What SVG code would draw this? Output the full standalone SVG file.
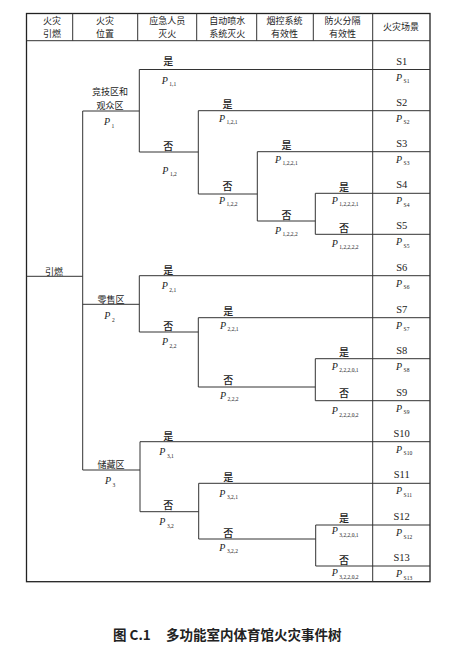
<svg xmlns="http://www.w3.org/2000/svg" width="457" height="650" viewBox="0 0 457 650">
<style>
.bg{fill:#ffffff}
.fr{fill:none;stroke:#222;stroke-width:1.3}
.ln{fill:none;stroke:#333;stroke-width:1}
.h{font-family:"Noto Sans CJK SC",sans-serif;font-size:9px;text-anchor:middle;fill:#222}
.yn{font-family:"Noto Sans CJK SC",sans-serif;font-size:10px;text-anchor:middle;fill:#222;font-weight:500}
.s{font-family:"Liberation Serif",serif;font-size:10.5px;text-anchor:middle;fill:#222}
.p{font-family:"Liberation Serif",serif;font-size:10px;font-style:italic;fill:#222}
.sb{font-size:5.5px;font-style:normal}
.cap{font-family:"Noto Sans CJK SC",sans-serif;font-size:13.5px;font-weight:bold;fill:#222}
</style>
<rect class="bg" x="0" y="0" width="457" height="650"/>

<g id="frame">
<rect class="fr" x="26.5" y="13.5" width="403.5" height="568.2"/>
<path class="ln" d="M26.5 40.7H430M72.7 13.5V40.7M137.7 13.5V40.7M196.7 13.5V40.7M256.7 13.5V40.7M313.3 13.5V40.7M372.7 13.5V581.7"/>
</g>

<g id="header">
<g id="h-ignite"><text class="h" x="52" y="23.6">火灾</text><text class="h" x="52" y="36.7">引燃</text></g>
<g id="h-location"><text class="h" x="105" y="23.6">火灾</text><text class="h" x="105" y="36.7">位置</text></g>
<g id="h-staff"><text class="h" x="167.3" y="23.6">应急人员</text><text class="h" x="167.3" y="36.7">灭火</text></g>
<g id="h-sprinkler"><text class="h" x="227.3" y="23.6">自动喷水</text><text class="h" x="227.3" y="36.7">系统灭火</text></g>
<g id="h-smoke"><text class="h" x="284.5" y="23.6">烟控系统</text><text class="h" x="284.5" y="36.7">有效性</text></g>
<g id="h-compart"><text class="h" x="342.5" y="23.6">防火分隔</text><text class="h" x="342.5" y="36.7">有效性</text></g>
<g id="h-scene"><text class="h" x="401" y="30.2">火灾场景</text></g>
</g>

<g id="connectors">
<path class="ln" d="M26.5 276.3H82.7M82.7 111V470M82.7 111H139.3M82.7 304.3H139.3M82.7 470H140"/>
<path class="ln" d="M139.3 69.5V152M139.3 69.5H430M139.3 152H198.3M198.3 110.7V194M198.3 110.7H430M198.3 194H257.3M257.3 151.7V221M257.3 151.7H430M257.3 221H315.3M315.3 193.3V234.3M315.3 193.3H430M315.3 234.3H430"/>
<path class="ln" d="M139.3 275.7V332M139.3 275.7H430M139.3 332H198.3M198.3 317.7V387M198.3 317.7H430M198.3 387H315.3M315.3 358.7V400.7M315.3 358.7H430M315.3 400.7H430"/>
<path class="ln" d="M140 441.7V511.7M140 441.7H430M140 511.7H198.7M198.7 483.3V539M198.7 483.3H430M198.7 539H315.7M315.7 525V566M315.7 525H430M315.7 566H430"/>
</g>

<g id="n-ignite"><text class="h" x="54" y="274.5">引燃</text></g>

<g id="n-loc1">
<text class="h" x="110" y="95.2">竞技区和</text><text class="h" x="110" y="109.2">观众区</text>
<text class="p" x="104" y="125.2">P<tspan class="sb" dx="1.5" dy="2.5">1</tspan></text>
</g>
<g id="n-loc2">
<text class="h" x="111" y="302.5">零售区</text>
<text class="p" x="104.3" y="319.2">P<tspan class="sb" dx="1.5" dy="2.5">2</tspan></text>
</g>
<g id="n-loc3">
<text class="h" x="111" y="467.5">储藏区</text>
<text class="p" x="105" y="484.2">P<tspan class="sb" dx="1.5" dy="2.5">3</tspan></text>
</g>

<g id="n-1-1"><text class="yn" x="168.3" y="65.2">是</text><text class="p" x="161.7" y="83.5">P<tspan class="sb" dx="1.5" dy="2.5">1,1</tspan></text></g>
<g id="n-1-2"><text class="yn" x="168.3" y="150.2">否</text><text class="p" x="162.3" y="173.5">P<tspan class="sb" dx="1.5" dy="2.5">1,2</tspan></text></g>
<g id="n-1-2-1"><text class="yn" x="227.5" y="107.5">是</text><text class="p" x="219" y="121.8">P<tspan class="sb" dx="1.5" dy="2.5">1,2,1</tspan></text></g>
<g id="n-1-2-2"><text class="yn" x="227.5" y="190.2">否</text><text class="p" x="219" y="203.5">P<tspan class="sb" dx="1.5" dy="2.5">1,2,2</tspan></text></g>
<g id="n-1-2-2-1"><text class="yn" x="286.5" y="148.5">是</text><text class="p" x="275" y="162.8">P<tspan class="sb" dx="1.5" dy="2.5">1,2,2,1</tspan></text></g>
<g id="n-1-2-2-2"><text class="yn" x="286.5" y="218.5">否</text><text class="p" x="275" y="233.5">P<tspan class="sb" dx="1.5" dy="2.5">1,2,2,2</tspan></text></g>
<g id="n-1-2-2-2-1"><text class="yn" x="344" y="190.8">是</text><text class="p" x="331.7" y="203.5">P<tspan class="sb" dx="1.5" dy="2.5">1,2,2,2,1</tspan></text></g>
<g id="n-1-2-2-2-2"><text class="yn" x="344" y="231.8">否</text><text class="p" x="331.7" y="246.8">P<tspan class="sb" dx="1.5" dy="2.5">1,2,2,2,2</tspan></text></g>

<g id="n-2-1"><text class="yn" x="168.3" y="273.5">是</text><text class="p" x="161.7" y="289.2">P<tspan class="sb" dx="1.5" dy="2.5">2,1</tspan></text></g>
<g id="n-2-2"><text class="yn" x="168.3" y="329.5">否</text><text class="p" x="162" y="345.2">P<tspan class="sb" dx="1.5" dy="2.5">2,2</tspan></text></g>
<g id="n-2-2-1"><text class="yn" x="228.3" y="314.5">是</text><text class="p" x="220" y="328.5">P<tspan class="sb" dx="1.5" dy="2.5">2,2,1</tspan></text></g>
<g id="n-2-2-2"><text class="yn" x="228.3" y="383.5">否</text><text class="p" x="220" y="398.5">P<tspan class="sb" dx="1.5" dy="2.5">2,2,2</tspan></text></g>
<g id="n-2-2-2-0-1"><text class="yn" x="344" y="356.2">是</text><text class="p" x="331.7" y="369.5">P<tspan class="sb" dx="1.5" dy="2.5">2,2,2,0,1</tspan></text></g>
<g id="n-2-2-2-0-2"><text class="yn" x="344" y="396.8">否</text><text class="p" x="331.7" y="414.2">P<tspan class="sb" dx="1.5" dy="2.5">2,2,2,0,2</tspan></text></g>

<g id="n-3-1"><text class="yn" x="168.3" y="439.5">是</text><text class="p" x="159.3" y="455.2">P<tspan class="sb" dx="1.5" dy="2.5">3,1</tspan></text></g>
<g id="n-3-2"><text class="yn" x="168.3" y="509.2">否</text><text class="p" x="159.3" y="525.2">P<tspan class="sb" dx="1.5" dy="2.5">3,2</tspan></text></g>
<g id="n-3-2-1"><text class="yn" x="228.3" y="481.2">是</text><text class="p" x="219.3" y="496.8">P<tspan class="sb" dx="1.5" dy="2.5">3,2,1</tspan></text></g>
<g id="n-3-2-2"><text class="yn" x="228.3" y="536.8">否</text><text class="p" x="219.3" y="550.8">P<tspan class="sb" dx="1.5" dy="2.5">3,2,2</tspan></text></g>
<g id="n-3-2-2-0-1"><text class="yn" x="344" y="521.8">是</text><text class="p" x="331.7" y="534.2">P<tspan class="sb" dx="1.5" dy="2.5">3,2,2,0,1</tspan></text></g>
<g id="n-3-2-2-0-2"><text class="yn" x="344" y="563.5">否</text><text class="p" x="331.7" y="576.2">P<tspan class="sb" dx="1.5" dy="2.5">3,2,2,0,2</tspan></text></g>

<g id="scenes">
<g id="s1"><text class="s" x="401.7" y="64.5">S1</text><text class="p" x="396" y="80.5">P<tspan class="sb" dx="1.5" dy="2.5">S1</tspan></text></g>
<g id="s2"><text class="s" x="401.7" y="105.7">S2</text><text class="p" x="396" y="121.7">P<tspan class="sb" dx="1.5" dy="2.5">S2</tspan></text></g>
<g id="s3"><text class="s" x="401.7" y="146.7">S3</text><text class="p" x="396" y="162.7">P<tspan class="sb" dx="1.5" dy="2.5">S3</tspan></text></g>
<g id="s4"><text class="s" x="401.7" y="188.3">S4</text><text class="p" x="396" y="204.3">P<tspan class="sb" dx="1.5" dy="2.5">S4</tspan></text></g>
<g id="s5"><text class="s" x="401.7" y="229.3">S5</text><text class="p" x="396" y="245.3">P<tspan class="sb" dx="1.5" dy="2.5">S5</tspan></text></g>
<g id="s6"><text class="s" x="401.7" y="270.7">S6</text><text class="p" x="396" y="286.7">P<tspan class="sb" dx="1.5" dy="2.5">S6</tspan></text></g>
<g id="s7"><text class="s" x="401.7" y="312.7">S7</text><text class="p" x="396" y="328.7">P<tspan class="sb" dx="1.5" dy="2.5">S7</tspan></text></g>
<g id="s8"><text class="s" x="401.7" y="353.7">S8</text><text class="p" x="396" y="369.7">P<tspan class="sb" dx="1.5" dy="2.5">S8</tspan></text></g>
<g id="s9"><text class="s" x="401.7" y="395.7">S9</text><text class="p" x="396" y="411.7">P<tspan class="sb" dx="1.5" dy="2.5">S9</tspan></text></g>
<g id="s10"><text class="s" x="401.7" y="436.7">S10</text><text class="p" x="396" y="452.7">P<tspan class="sb" dx="1.5" dy="2.5">S10</tspan></text></g>
<g id="s11"><text class="s" x="401.7" y="478.3">S11</text><text class="p" x="396" y="494.3">P<tspan class="sb" dx="1.5" dy="2.5">S11</tspan></text></g>
<g id="s12"><text class="s" x="401.7" y="520">S12</text><text class="p" x="396" y="536">P<tspan class="sb" dx="1.5" dy="2.5">S12</tspan></text></g>
<g id="s13"><text class="s" x="401.7" y="561">S13</text><text class="p" x="396" y="577">P<tspan class="sb" dx="1.5" dy="2.5">S13</tspan></text></g>
</g>

<g id="caption">
<text class="cap" x="113" y="640">图 C.1</text>
<text class="cap" x="166" y="640">多功能室内体育馆火灾事件树</text>
</g>
</svg>
